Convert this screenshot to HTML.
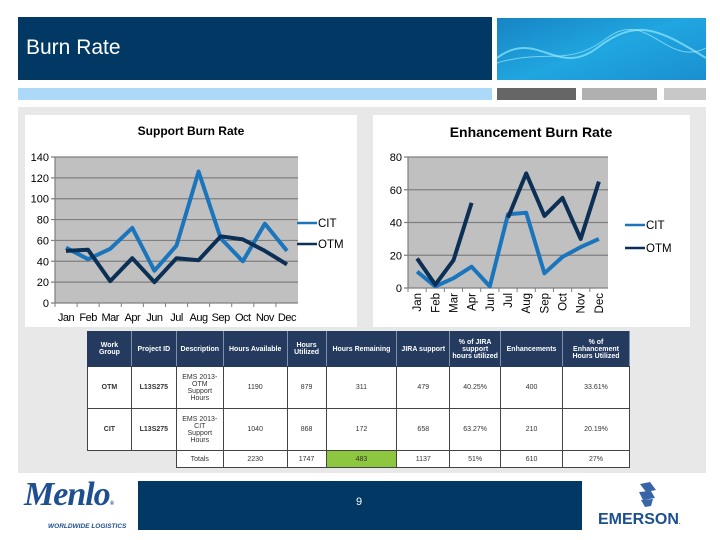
<!DOCTYPE html>
<html><head><meta charset="utf-8">
<style>
body{margin:0;width:720px;height:540px;background:#fff;position:relative;overflow:hidden;font-family:"Liberation Sans",sans-serif}
.a{position:absolute}
table{border-collapse:collapse;font-family:"Liberation Sans",sans-serif;font-size:7px;color:#333}
td{text-align:center;padding:0;border:1px solid #444}
thead td{background:#243a5e;color:#fff;font-weight:bold;border:1px solid #243a5e;border-right:1px solid #8090a8}
</style></head><body>
<div class="a" style="left:18px;top:17px;width:474px;height:63px;background:#023864"></div>
<div class="a" style="left:26px;top:36px;color:#fff;font-size:21px">Burn Rate</div>
<div class="a" style="left:497px;top:18px;width:209px;height:62px;background:linear-gradient(160deg,#1784c4,#20a6e0 50%,#1a8fd0)">
<svg width="209" height="62"><path d="M0 40 C40 10,60 60,100 30 S160 10,209 40" stroke="#8fe8ff" stroke-width="2" fill="none" opacity=".7"/><path d="M0 45 C50 30,70 50,110 20 S170 50,209 30" stroke="#b8f4ff" stroke-width="1" fill="none" opacity=".6"/></svg></div>
<div class="a" style="left:18px;top:88px;width:474px;height:12px;background:#acd9f7"></div>
<div class="a" style="left:497px;top:88px;width:79px;height:12px;background:#666"></div>
<div class="a" style="left:582px;top:88px;width:75px;height:12px;background:#b0b0b0"></div>
<div class="a" style="left:664px;top:88px;width:42px;height:12px;background:#c8c8c8"></div>
<div class="a" style="left:18px;top:107px;width:688px;height:366px;background:#e8e8e8"></div>
<div class="a" style="left:25px;top:115px;width:332px;height:212px;background:#fff"></div>
<div class="a" style="left:373px;top:115px;width:317px;height:212px;background:#fff"></div>
<svg class="a" style="left:0;top:0" width="720" height="340" id="charts"></svg>

<table class="a" style="left:87px;top:331px;width:543px">
<colgroup><col style="width:44px"><col style="width:45px"><col style="width:47px"><col style="width:64px"><col style="width:39px"><col style="width:71px"><col style="width:53px"><col style="width:51px"><col style="width:62px"><col style="width:67px"></colgroup>
<thead><tr style="height:35px"><td>Work<br>Group</td><td>Project ID</td><td>Description</td><td>Hours Available</td><td>Hours<br>Utilized</td><td>Hours Remaining</td><td>JIRA support</td><td>% of JIRA<br>support<br>hours utilized</td><td>Enhancements</td><td>% of<br>Enhancement<br>Hours Utilized</td></tr></thead>
<tbody style="background:#fff">
<tr style="height:42px"><td><b>OTM</b></td><td><b>L13S275</b></td><td>EMS 2013-<br>OTM<br>Support<br>Hours</td><td>1190</td><td>879</td><td>311</td><td>479</td><td>40.25%</td><td>400</td><td>33.61%</td></tr>
<tr style="height:42px"><td><b>CIT</b></td><td><b>L13S275</b></td><td>EMS 2013-<br>CIT<br>Support<br>Hours</td><td>1040</td><td>868</td><td>172</td><td>658</td><td>63.27%</td><td>210</td><td>20.19%</td></tr>
<tr style="height:17px"><td style="border:none;background:#e8e8e8"></td><td style="border:none;background:#e8e8e8"></td><td>Totals</td><td>2230</td><td>1747</td><td style="background:#8dc63f">483</td><td>1137</td><td>51%</td><td>610</td><td>27%</td></tr>
</tbody></table>

<div class="a" style="left:22px;top:478px;width:115px;height:45px">
<div style="font:italic bold 34px 'Liberation Serif',serif;color:#1d4f91;line-height:34px;letter-spacing:-1px;margin-left:2px">Menlo<span style="font-size:6px">®</span></div>
<div style="font:italic bold 6.5px 'Liberation Sans',sans-serif;color:#1d4f91;margin-left:26px;margin-top:2px">WORLDWIDE LOGISTICS</div></div>
<div class="a" style="left:138px;top:481px;width:444px;height:49px;background:#023864"></div>
<div class="a" style="left:356px;top:496px;color:#fff;font-size:11px">9</div>
<div class="a" style="left:598px;top:480px;width:96px;height:45px">
<svg width="96" height="28"><g fill="#3a64a8"><polygon points="42,4 52,2 58,10 48,12"/><polygon points="41,12 53,11 57,18 45,20"/><polygon points="43,20 55,19 53,26 47,27"/></g></svg>
<div style="font:bold 16px 'Liberation Sans',sans-serif;color:#1d4f91;margin-top:-2px;margin-left:0px">EMERSON<span style="font-size:6px">.</span></div></div>

<script>
const supCats=["Jan","Feb","Mar","Apr","Jun","Jul","Aug","Sep","Oct","Nov","Dec"];
const supCIT=[53,42,52,72,31,55,126,62,40,76,50];
const supOTM=[50,51,21,43,20,43,41,64,61,50,37];
const supTicks=[0,20,40,60,80,100,120,140];
const enhCats=["Jan","Feb","Mar","Apr","Jun","Jul","Aug","Sep","Oct","Nov","Dec"];
const enhCIT=[10,1,6,13,1,45,46,9,19,25,30];
const enhOTM=[18,2,17,52,null,43,70,44,55,30,65];
const enhTicks=[0,20,40,60,80];
const NS="http://www.w3.org/2000/svg";
const svg=document.getElementById('charts');
function mk(t,a,txt){const e=document.createElementNS(NS,t);for(const k in a)e.setAttribute(k,a[k]);if(txt!=null)e.textContent=txt;svg.appendChild(e);return e;}
function chart(o){
  const x=i=>o.x0+(i+0.5)*(o.x1-o.x0)/o.cats.length;
  const y=v=>o.y1-(v-o.min)/(o.max-o.min)*(o.y1-o.y0);
  let r=mk('rect',{x:o.x0,y:o.y0,width:o.x1-o.x0,height:o.y1-o.y0,fill:'#c0c0c0'});
  
  o.ticks.forEach(t=>{
    let g=mk('line',{x1:o.x0-4,x2:o.x1,y1:y(t),y2:y(t),stroke:'#7f7f7f','stroke-width':1.2});
    
    let l=mk('text',{x:o.x0-6,y:y(t)+4,'text-anchor':'end','font-size':11,fill:'#000'},t);
    
  });
  mk('line',{x1:o.x0,x2:o.x0,y1:o.y0,y2:o.y1,stroke:'#7f7f7f','stroke-width':1.2});
  o.cats.forEach((c,i)=>{
    const tx=o.x0+i*(o.x1-o.x0)/o.cats.length;
    mk('line',{x1:tx,x2:tx,y1:o.y1,y2:o.y1+4,stroke:'#7f7f7f'});
    let l;
    if(o.rot){l=mk('text',{x:0,y:0,transform:`translate(${x(i)+4},${o.y1+5}) rotate(-90)`,'text-anchor':'end','font-size':11.5,fill:'#000'},c);}
    else l=mk('text',{x:x(i),y:o.y1+18,'text-anchor':'middle','font-size':11,fill:'#000','letter-spacing':'-0.5'},c);
    
  });
  o.series.forEach((s,si)=>{
    let d='',pen=false;
    s.vals.forEach((v,i)=>{if(v==null){pen=false;return;}d+=(pen?'L':'M')+x(i).toFixed(1)+' '+y(v).toFixed(1)+' ';pen=true;});
    let p=mk('path',{d:d,fill:'none',stroke:s.color,'stroke-width':4,'stroke-linejoin':'round'});
    
    const ly=o.legY+si*o.legGap;
    let lg=mk('line',{x1:o.legX,x2:o.legX+20,y1:ly,y2:ly,stroke:s.color,'stroke-width':2.5});
    
    let lt=mk('text',{x:o.legX+21,y:ly+4,'font-size':11.5,fill:'#000'},s.name);
    
  });
  let t=mk('text',{x:o.tx,y:o.ty,'text-anchor':'middle','font-size':o.tfs,'font-weight':'bold',fill:'#000'},o.title);
  
}
chart({id:'support',x0:55,x1:298,y0:157,y1:303,min:0,max:140,ticks:supTicks,cats:supCats,rot:false,
  series:[{name:'CIT',vals:supCIT,color:'#1b75bc'},{name:'OTM',vals:supOTM,color:'#0c2f55'}],
  legX:297,legY:223,legGap:21,title:'Support Burn Rate',tx:191,ty:135,tfs:12});
chart({id:'enhancement',x0:408,x1:608,y0:157,y1:288,min:0,max:80,ticks:enhTicks,cats:enhCats,rot:true,
  series:[{name:'CIT',vals:enhCIT,color:'#1b75bc'},{name:'OTM',vals:enhOTM,color:'#0c2f55'}],
  legX:625,legY:225,legGap:23,title:'Enhancement Burn Rate',tx:531,ty:137,tfs:14});
</script>
</body></html>
